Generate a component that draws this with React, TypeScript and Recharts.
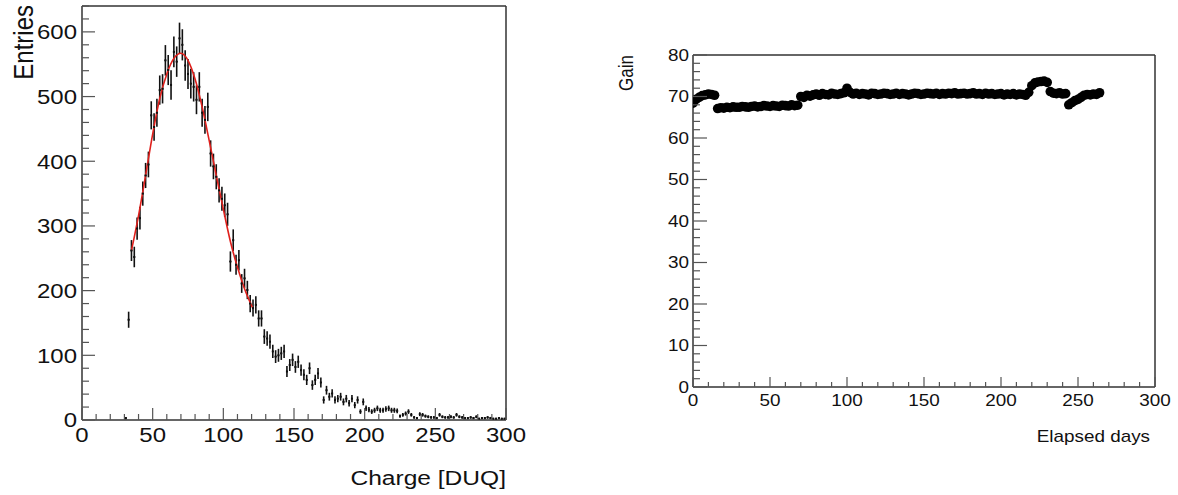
import { ComposedChart, Scatter, Line, XAxis, YAxis, ErrorBar } from 'recharts';

const FONT = '"Liberation Sans", Arial, Helvetica, sans-serif';

// ---- left: charge histogram (bins of 2 DUQ starting at 31) ----
const chargeStart = 31;
const chargeBinWidth = 2;
const entries = [
  3, 155, 262, 252, 296, 312, 350, 378, 395, 471, 453, 475, 510, 512, 556, 541, 518, 569, 554, 590,
  580, 548, 535, 520, 515, 495, 515, 475, 464, 484, 412, 392, 376, 355, 342, 332, 318, 245, 278, 240,
  247, 211, 219, 201, 180, 173, 178, 157, 157, 129, 126, 121, 106, 98, 100, 103, 106, 75, 85, 93,
  82, 90, 77, 70, 62, 80, 54, 62, 72, 58, 31, 46, 36, 41, 31, 33, 36, 28, 33, 26,
  33, 23, 31, 13, 28, 18, 16, 13, 15, 18, 15, 15, 17, 18, 15, 15, 14, 6, 8, 10,
  13, 8, 4, 3, 9, 8, 6, 5, 4, 4, 3, 8, 5, 4, 4, 5, 4, 8, 5, 4,
  3, 3, 4, 3, 5, 2, 3, 3, 4, 3, 2, 2, 3, 2, 2,
];

// fit curve
const fitCharge = [35, 40, 45, 50, 55, 60, 65, 70, 75, 80, 85, 90, 95, 100, 105, 110, 115, 121];
const fitEntries = [262, 316, 378, 442, 497, 535, 559, 567, 556, 527, 484, 432, 378, 326, 276, 236, 203, 172];

const chargeTicks = [0, 10, 20, 30, 40, 50, 60, 70, 80, 90, 100, 110, 120, 130, 140, 150, 160, 170, 180, 190, 200, 210, 220, 230, 240, 250, 260, 270, 280, 290, 300];
const entriesTicks = [0, 20, 40, 60, 80, 100, 120, 140, 160, 180, 200, 220, 240, 260, 280, 300, 320, 340, 360, 380, 400, 420, 440, 460, 480, 500, 520, 540, 560, 580, 600, 620, 640];

// ---- right: gain vs elapsed days (every 2 days) ----
const gain = [
  68.4, 69.3, 69.8, 70.2, 70.4, 70.6, 70.5, 70.3,
  67.1, 67.3, 67.2, 67.4, 67.3, 67.5, 67.4, 67.4, 67.6, 67.5, 67.4, 67.6, 67.7, 67.5, 67.6, 67.8,
  67.7, 67.6, 67.8, 67.7, 67.6, 67.9, 67.8, 67.7, 68.0, 67.8, 67.9,
  70.0, 69.8, 70.3, 70.1, 70.4, 70.6, 70.3, 70.7, 70.5, 70.4, 70.8, 70.6, 70.5, 70.7, 70.9, 72.0,
  71.0, 70.6, 70.8, 70.5, 70.7, 70.6, 70.4, 70.8, 70.7, 70.5, 70.6, 70.8, 70.7, 70.5, 70.6, 70.8,
  70.5, 70.7, 70.6, 70.4, 70.6, 70.8, 70.7, 70.5, 70.6, 70.8, 70.7, 70.6, 70.8, 70.5, 70.7, 70.6,
  70.8, 70.7, 70.9, 70.6, 70.7, 70.8, 70.6, 70.7, 70.9, 70.6, 70.7, 70.5, 70.8, 70.6, 70.7, 70.5,
  70.6, 70.7, 70.4, 70.6, 70.5, 70.7, 70.4, 70.6, 70.5, 70.3,
  71.0, 72.6, 73.3, 73.5, 73.6, 73.7, 73.4, 71.2, 70.8, 70.7, 70.9, 70.6, 70.7,
  68.0, 68.5, 69.0, 69.3, 69.8, 70.3, 70.5, 70.4, 70.6, 70.5, 70.9,
];
const dayStep = 2;

const dayTicks = [0, 10, 20, 30, 40, 50, 60, 70, 80, 90, 100, 110, 120, 130, 140, 150, 160, 170, 180, 190, 200, 210, 220, 230, 240, 250, 260, 270, 280, 290, 300];
const gainTicks = [0, 2, 4, 6, 8, 10, 12, 14, 16, 18, 20, 22, 24, 26, 28, 30, 32, 34, 36, 38, 40, 42, 44, 46, 48, 50, 52, 54, 56, 58, 60, 62, 64, 66, 68, 70, 72, 74, 76, 78, 80];

const histData = entries.map((n, i) => ({
  charge: chargeStart + i * chargeBinWidth,
  count: n,
  err: Math.sqrt(n),
  xerr: 0.6,
}));
const fitData = fitCharge.map((c, i) => ({ charge: c, value: fitEntries[i] }));
const gainData = gain.map((g, i) => ({ day: i * dayStep, gain: g }));

type Side = 'bottom' | 'top' | 'left' | 'right';
interface TickOpts {
  side: Side;
  majorEvery: number;
  majorLen: number;
  minorLen: number;
  label?: boolean;
  fontSize?: number;
  stretch?: number;
  offset?: number;
}

function makeTick(o: TickOpts) {
  return (props: any) => {
    const { x, y, payload } = props;
    const v = payload.value;
    const major = Math.abs(v % o.majorEvery) < 1e-6;
    const len = major ? o.majorLen : o.minorLen;
    let x2 = x, y2 = y;
    if (o.side === 'bottom') y2 = y - len;
    if (o.side === 'top') y2 = y + len;
    if (o.side === 'left') x2 = x + len;
    if (o.side === 'right') x2 = x - len;
    let text = null;
    if (o.label && major) {
      const fs = o.fontSize || 20;
      const s = o.stretch || 1;
      if (o.side === 'bottom') {
        text = (
          <g transform={`translate(${x},${y + (o.offset || 0)}) scale(${s},1)`}>
            <text x={0} y={0} textAnchor="middle" fontSize={fs} fontFamily={FONT} fill="#111">{v}</text>
          </g>
        );
      } else if (o.side === 'left') {
        text = (
          <g transform={`translate(${x - (o.offset || 0)},${y + fs * 0.36}) scale(${s},1)`}>
            <text x={0} y={0} textAnchor="end" fontSize={fs} fontFamily={FONT} fill="#111">{v}</text>
          </g>
        );
      }
    }
    return (
      <g>
        <line x1={x} y1={y} x2={x2} y2={y2} stroke="#555" strokeWidth={1.2} />
        {text}
      </g>
    );
  };
}

const frame = { stroke: '#333', strokeWidth: 1.5 };

function ChargeChart() {
  return (
    <div style={{ position: 'absolute', left: 0, top: 0, width: 530, height: 495 }}>
      <ComposedChart width={530} height={495} margin={{ top: 0, right: 0, bottom: 0, left: 0 }}>
        <XAxis xAxisId="b" dataKey="charge" type="number" domain={[0, 300]} ticks={chargeTicks} interval={0}
          orientation="bottom" height={75} tickSize={0} tickMargin={0} tickLine={false} axisLine={frame}
          allowDataOverflow
          tick={makeTick({ side: 'bottom', majorEvery: 50, majorLen: 12, minorLen: 6, label: true, fontSize: 20.5, stretch: 1.17, offset: 22 })} />
        <XAxis xAxisId="t" type="number" domain={[0, 300]} ticks={chargeTicks} interval={0}
          orientation="top" height={6} tickSize={0} tickMargin={0} tickLine={false} axisLine={frame}
          tick={makeTick({ side: 'top', majorEvery: 50, majorLen: 12, minorLen: 6 })} />
        <YAxis yAxisId="l" type="number" domain={[0, 640]} ticks={entriesTicks} interval={0}
          width={82} tickSize={0} tickMargin={0} tickLine={false} axisLine={frame} allowDataOverflow
          tick={makeTick({ side: 'left', majorEvery: 100, majorLen: 13, minorLen: 7, label: true, fontSize: 20.5, stretch: 1.17, offset: 5 })} />
        <YAxis yAxisId="r" type="number" domain={[0, 640]} ticks={entriesTicks} interval={0} orientation="right"
          width={24} tickSize={0} tickMargin={0} tickLine={false} axisLine={frame}
          tick={makeTick({ side: 'right', majorEvery: 100, majorLen: 13, minorLen: 7 })} />
        <Scatter xAxisId="b" yAxisId="l" data={histData} dataKey="count" isAnimationActive={false}
          shape={(p: any) => <rect x={p.cx - 1} y={p.cy - 1} width={2} height={2} fill="#111" />}>
          <ErrorBar dataKey="err" direction="y" width={0} stroke="#111" strokeWidth={1.6} isAnimationActive={false} />
          <ErrorBar dataKey="xerr" direction="x" width={0} stroke="#111" strokeWidth={1} isAnimationActive={false} />
        </Scatter>
        <Line xAxisId="b" yAxisId="l" data={fitData} dataKey="value" type="monotone" stroke="#e0201c"
          strokeWidth={1.6} dot={false} isAnimationActive={false} />
      </ComposedChart>
      <svg width={530} height={495} style={{ position: 'absolute', left: 0, top: 0, pointerEvents: 'none' }}>
        <g transform="translate(33,5) scale(1.17,1) rotate(-90)">
          <text x={0} y={0} textAnchor="end" fontSize={24} fontFamily={FONT} fill="#111">Entries</text>
        </g>
        <g transform="translate(506,485) scale(1.17,1)">
          <text x={0} y={0} textAnchor="end" fontSize={21} fontFamily={FONT} fill="#111">Charge [DUQ]</text>
        </g>
      </svg>
    </div>
  );
}

function GainChart() {
  return (
    <div style={{ position: 'absolute', left: 590, top: 0, width: 588, height: 495 }}>
      <ComposedChart width={588} height={495} margin={{ top: 0, right: 0, bottom: 0, left: 0 }}>
        <XAxis xAxisId="b" dataKey="day" type="number" domain={[0, 300]} ticks={dayTicks} interval={0}
          orientation="bottom" height={108} tickSize={0} tickMargin={0} tickLine={false} axisLine={frame}
          allowDataOverflow
          tick={makeTick({ side: 'bottom', majorEvery: 50, majorLen: 10, minorLen: 5, label: true, fontSize: 16, stretch: 1.18, offset: 19 })} />
        <XAxis xAxisId="t" type="number" domain={[0, 300]} ticks={dayTicks} interval={0}
          orientation="top" height={55} tickSize={0} tickMargin={0} tickLine={false} axisLine={frame}
          tick={makeTick({ side: 'top', majorEvery: 50, majorLen: 10, minorLen: 5 })} />
        <YAxis yAxisId="l" type="number" domain={[0, 80]} ticks={gainTicks} interval={0}
          width={103} tickSize={0} tickMargin={0} tickLine={false} axisLine={frame} allowDataOverflow
          tick={makeTick({ side: 'left', majorEvery: 10, majorLen: 14, minorLen: 7, label: true, fontSize: 16, stretch: 1.18, offset: 4 })} />
        <YAxis yAxisId="r" type="number" domain={[0, 80]} ticks={gainTicks} interval={0} orientation="right"
          width={23} tickSize={0} tickMargin={0} tickLine={false} axisLine={frame}
          tick={makeTick({ side: 'right', majorEvery: 10, majorLen: 14, minorLen: 7 })} />
        <Scatter xAxisId="b" yAxisId="l" data={gainData} dataKey="gain" isAnimationActive={false}
          shape={(p: any) => <circle cx={p.cx} cy={p.cy} r={4.8} fill="#000" />} />
      </ComposedChart>
      <svg width={588} height={495} style={{ position: 'absolute', left: 0, top: 0, pointerEvents: 'none' }}>
        <g transform="translate(43,55) scale(1.18,1) rotate(-90)">
          <text x={0} y={0} textAnchor="end" fontSize={17} fontFamily={FONT} fill="#111">Gain</text>
        </g>
        <g transform="translate(560,442) scale(1.18,1)">
          <text x={0} y={0} textAnchor="end" fontSize={16} fontFamily={FONT} fill="#111">Elapsed days</text>
        </g>
      </svg>
    </div>
  );
}

export default function App() {
  return (
    <div style={{ position: 'absolute', left: 0, top: 0, width: 1178, height: 495, background: '#fff' }}>
      <ChargeChart />
      <GainChart />
    </div>
  );
}
